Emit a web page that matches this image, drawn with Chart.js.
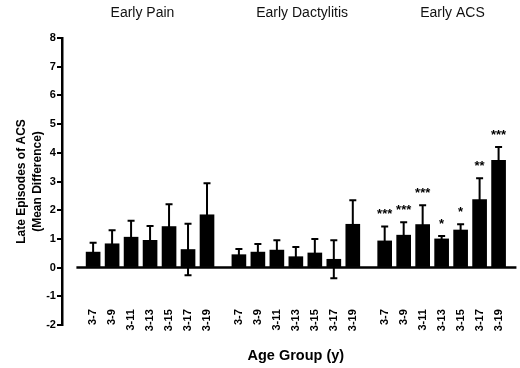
<!DOCTYPE html>
<html>
<head>
<meta charset="utf-8">
<script src="https://cdn.jsdelivr.net/npm/chart.js@4.4.1/dist/chart.umd.min.js"></script>
<style>
  html, body { margin: 0; padding: 0; background: #fff; }
</style>
</head>
<body>
<canvas id="grafico" width="520" height="368"></canvas>
<script>
// datos
const ageGroups = ["3-7", "3-9", "3-11", "3-13", "3-15", "3-17", "3-19"];
const panels = ["Early Pain", "Early Dactylitis", "Early ACS"];
const painMeans = [0.54, 0.83, 1.06, 0.95, 1.43, 0.63, 1.84];
const painErrors = [0.33, 0.47, 0.57, 0.50, 0.78, 0.90, 1.10];
const dactylitisMeans = [0.45, 0.54, 0.61, 0.38, 0.51, 0.29, 1.51];
const dactylitisErrors = [0.20, 0.28, 0.34, 0.34, 0.49, 0.66, 0.84];
const acsMeans = [0.93, 1.13, 1.50, 1.00, 1.31, 2.37, 3.74];
const acsErrors = [0.50, 0.45, 0.67, 0.10, 0.20, 0.74, 0.46];
const acsStars = ["***", "***", "***", "*", "*", "**", "***"];
const yMin = -2, yMax = 8;

const panelMeans = [painMeans, dactylitisMeans, acsMeans];
const panelErrors = [painErrors, dactylitisErrors, acsErrors];
const panelStars = [null, null, acsStars];

// layout on the linear x axis: 7 bars per panel, a gap between panels
const groupGap = 0.68;
const pos = (g, i) => g * (ageGroups.length + groupGap) + i;
const tickPositions = [];
const tickLabels = [];
panels.forEach((p, g) => ageGroups.forEach((a, i) => {
    tickPositions.push(pos(g, i));
    tickLabels.push(a);
}));
const panelTitleShift = [-0.4, 0.33, 0.57];

Chart.defaults.font.family = "'Liberation Sans', Arial, sans-serif";
Chart.defaults.color = "#000";

const datasets = panels.map((name, g) => ({
    type: "bar",
    label: name,
    data: panelMeans[g].map((m, i) => ({ x: pos(g, i), y: m })),
    errors: panelErrors[g],
    stars: panelStars[g],
    backgroundColor: "#000",
    borderWidth: 0,
    barThickness: 14,
    grouped: false,
    order: 1
}));

// linea del cero
datasets.push({
    type: "line",
    label: "zero",
    data: [{ x: -0.88, y: 0 }, { x: 22.3, y: 0 }],
    borderColor: "#000",
    borderWidth: 2.5,
    pointRadius: 0,
    order: 2
});

const errorBars = {
    id: "errorBars",
    afterDatasetsDraw(chart) {
        const ctx = chart.ctx;
        const yScale = chart.scales.y;
        const xScale = chart.scales.x;
        const area = chart.chartArea;
        ctx.save();
        ctx.strokeStyle = "#000";
        ctx.fillStyle = "#000";
        ctx.lineWidth = 2;
        chart.data.datasets.forEach((ds, d) => {
            if (!ds.errors) return;
            const meta = chart.getDatasetMeta(d);
            meta.data.forEach((bar, i) => {
                const m = ds.data[i].y;
                const e = ds.errors[i];
                const yt = yScale.getPixelForValue(m + e);
                const yb = yScale.getPixelForValue(m - e);
                ctx.beginPath();
                ctx.moveTo(bar.x, yt);
                ctx.lineTo(bar.x, yb);
                ctx.moveTo(bar.x - 3.5, yt);
                ctx.lineTo(bar.x + 3.5, yt);
                ctx.moveTo(bar.x - 3.5, yb);
                ctx.lineTo(bar.x + 3.5, yb);
                ctx.stroke();
                if (ds.stars) {
                    ctx.font = "bold 13px 'Liberation Sans', Arial, sans-serif";
                    ctx.textAlign = "center";
                    ctx.textBaseline = "alphabetic";
                    ctx.fillText(ds.stars[i], bar.x, yt - 8.5);
                }
            });
        });
        // titulos de cada panel
        ctx.font = "14px 'Liberation Sans', Arial, sans-serif";
        ctx.fillStyle = "#111";
        ctx.textAlign = "center";
        ctx.textBaseline = "middle";
        panels.forEach((name, g) => {
            const cx = xScale.getPixelForValue(pos(g, 3) + panelTitleShift[g]);
            ctx.fillText(name, cx, area.top - 25);
        });
        // titulo eje x
        ctx.fillStyle = "#000";
        ctx.font = "bold 14.5px 'Liberation Sans', Arial, sans-serif";
        ctx.fillText("Age Group (y)", xScale.getPixelForValue(pos(1, 3)), area.bottom + 31);
        ctx.restore();
    }
};

new Chart(document.getElementById("grafico"), {
    data: { datasets: datasets },
    options: {
        responsive: false,
        animation: false,
        layout: { padding: { top: 38, bottom: 43, left: 14, right: 3 } },
        plugins: {
            legend: { display: false },
            tooltip: { enabled: false }
        },
        scales: {
            x: {
                type: "linear",
                offset: false,
                min: -1.64,
                max: 22.33,
                position: { y: -1.45 },
                grid: { display: false, drawTicks: false },
                border: { display: false },
                afterBuildTicks: scale => {
                    scale.ticks = tickPositions.map(v => ({ value: v }));
                },
                ticks: {
                    autoSkip: false,
                    minRotation: 90,
                    maxRotation: 90,
                    padding: 0,
                    font: { size: 11, weight: "bold" },
                    callback: (v, i) => tickLabels[i]
                }
            },
            y: {
                min: yMin,
                max: yMax,
                ticks: { stepSize: 1, padding: 1, font: { size: 11, weight: "bold" } },
                grid: { drawOnChartArea: false, drawTicks: true, tickLength: 5, color: "#000", lineWidth: 2 },
                border: { display: true, color: "#000", width: 2.5 },
                title: {
                    display: true,
                    text: ["Late Episodes of ACS", "(Mean Difference)"],
                    font: { size: 12, weight: "bold", lineHeight: 1.3 },
                    padding: { top: 0, bottom: 0 }
                }
            }
        }
    },
    plugins: [errorBars]
});
</script>
</body>
</html>
